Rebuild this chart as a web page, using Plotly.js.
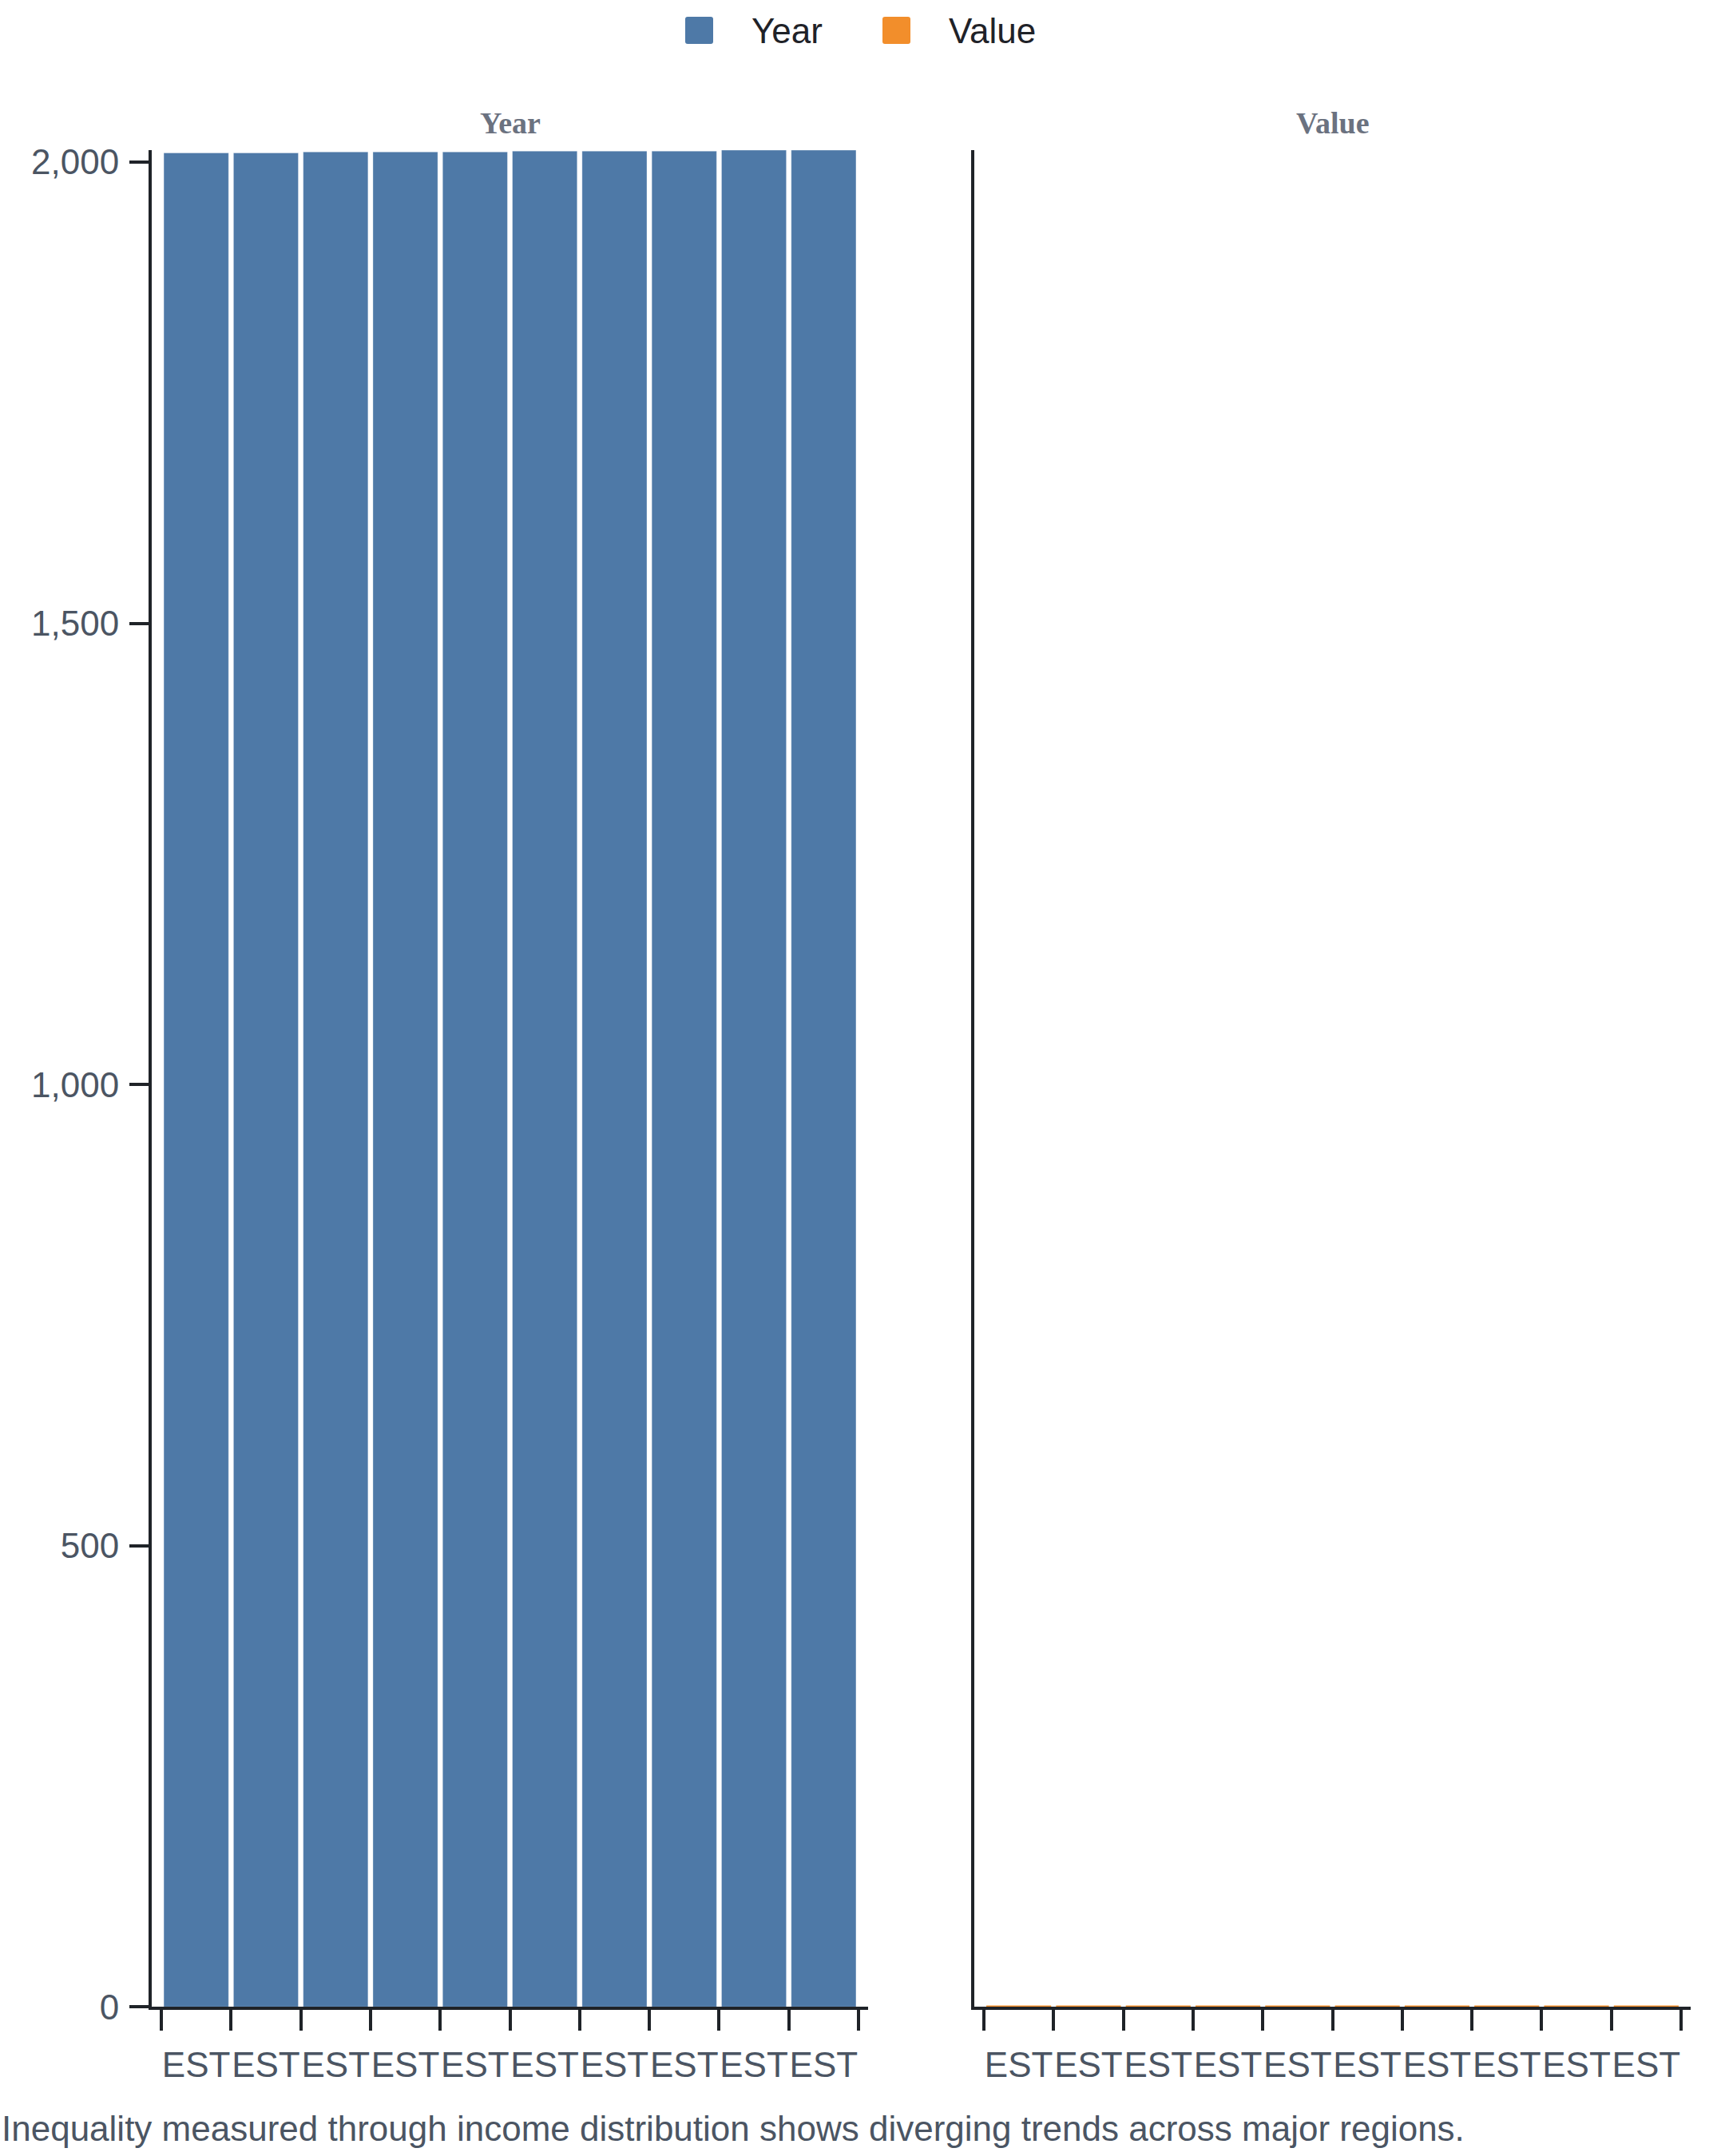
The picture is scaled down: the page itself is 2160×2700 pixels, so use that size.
<!DOCTYPE html>
<html>
<head>
<meta charset="utf-8">
<script src="https://cdn.plot.ly/plotly-3.0.1.min.js"></script>
<style>
  html, body { margin: 0; padding: 0; background: #ffffff; }
  #chart { width: 2160px; height: 2700px; }
</style>
</head>
<body>
<div id="chart"></div>
<script>
// ---- data ----
const regions = ['EST', 'EST', 'EST', 'EST', 'EST', 'EST', 'EST', 'EST', 'EST', 'EST'];
const yearValues = [2010, 2010, 2011, 2011, 2011, 2012, 2012, 2012, 2013, 2013];
const valueValues = [1.6, 1.6, 1.6, 1.6, 1.6, 1.6, 1.6, 1.6, 1.6, 1.6];
const seriesNames = ['Year', 'Value'];
const yTicks = [0, 500, 1000, 1500, 2000];
const caption = 'Inequality measured through income distribution shows diverging trends across major regions.';

// ---- styling ----
const W = 2160, H = 2700;
const BLUE = '#4e79a7', ORANGE = '#f28e2b';
const AXIS = '#1f2328', TICKTXT = '#4b5563', TITLE = '#6b7280';
const SANS = 'Liberation Sans, Arial, Helvetica, sans-serif';
const SERIF = 'Liberation Serif, Times New Roman, serif';

const px = v => v / W;
const py = v => 1 - v / H;

const idx = regions.map((_, i) => i);

const traces = [
  {
    type: 'bar', name: seriesNames[0], x: idx, y: yearValues,
    xaxis: 'x', yaxis: 'y',
    marker: { color: BLUE, line: { color: 'rgba(255,255,255,0.35)', width: 1 } },
    showlegend: false, hoverinfo: 'x+y'
  },
  {
    type: 'bar', name: seriesNames[1], x: idx, y: valueValues,
    xaxis: 'x2', yaxis: 'y2',
    marker: { color: ORANGE, line: { width: 0 } },
    showlegend: false, hoverinfo: 'x+y'
  }
];

const xCommon = {
  type: 'category',
  range: [-0.6375, 9.6375],
  tickmode: 'array', tickvals: idx, ticktext: regions,
  tickson: 'boundaries', tickangle: 0,
  ticks: 'outside', ticklen: 26, tickwidth: 4, tickcolor: AXIS,
  ticklabelstandoff: 31,
  showline: true, linewidth: 4, linecolor: AXIS,
  showgrid: false, zeroline: false,
  tickfont: { family: SANS, size: 44, color: TICKTXT },
  fixedrange: true
};

const yDomain = [py(2513.3), py(188)];
const yMax = Math.max(...yearValues);

const layout = {
  width: W, height: H,
  margin: { l: 0, r: 0, t: 0, b: 0, pad: 0 },
  paper_bgcolor: '#ffffff', plot_bgcolor: '#ffffff',
  showlegend: false,
  bargap: 0.07,
  font: { family: SANS, size: 44, color: TICKTXT },
  xaxis: Object.assign({}, xCommon, { domain: [px(190), px(1087)], anchor: 'y' }),
  xaxis2: Object.assign({}, xCommon, { domain: [px(1220), px(2117)], anchor: 'y2' }),
  yaxis: {
    domain: yDomain, range: [0, yMax], anchor: 'x',
    tickmode: 'array', tickvals: yTicks, tickformat: ',',
    ticks: 'outside', ticklen: 24, tickwidth: 4, tickcolor: AXIS,
    ticklabelstandoff: 4,
    showline: true, linewidth: 4, linecolor: AXIS,
    showgrid: false, zeroline: false,
    tickfont: { family: SANS, size: 44, color: TICKTXT },
    fixedrange: true
  },
  yaxis2: {
    domain: yDomain, matches: 'y', anchor: 'x2',
    showticklabels: false, ticks: '',
    showline: true, linewidth: 4, linecolor: AXIS,
    showgrid: false, zeroline: false,
    fixedrange: true
  },
  shapes: [],
  annotations: []
};

// legend (drawn manually so the swatches match the reference size)
function swatch(xLeft, color) {
  return {
    type: 'path', xref: 'paper', yref: 'paper',
    xsizemode: 'pixel', ysizemode: 'pixel',
    xanchor: px(xLeft), yanchor: py(55),
    path: 'M3,0 H32 Q35,0 35,3 V31 Q35,34 32,34 H3 Q0,34 0,31 V3 Q0,0 3,0 Z',
    fillcolor: color, line: { width: 0 }
  };
}
layout.shapes.push(swatch(858, BLUE));
layout.shapes.push(swatch(1105, ORANGE));

function legendText(xLeft, text) {
  return {
    xref: 'paper', yref: 'paper', x: px(xLeft), y: py(38),
    xanchor: 'left', yanchor: 'middle', showarrow: false,
    text: text, font: { family: SANS, size: 44, color: '#1f2228' }
  };
}
layout.annotations.push(legendText(939, seriesNames[0]));
layout.annotations.push(legendText(1186, seriesNames[1]));

// subplot titles
function subTitle(xc, text) {
  return {
    xref: 'paper', yref: 'paper', x: px(xc), y: py(154),
    xanchor: 'center', yanchor: 'middle', showarrow: false,
    text: '<b>' + text + '</b>', font: { family: SERIF, size: 38, color: TITLE }
  };
}
layout.annotations.push(subTitle(638.5, seriesNames[0]));
layout.annotations.push(subTitle(1668.5, seriesNames[1]));

// caption
layout.annotations.push({
  xref: 'paper', yref: 'paper', x: 0, y: py(2665),
  xanchor: 'left', yanchor: 'middle', showarrow: false,
  text: caption, font: { family: SANS, size: 44, color: TICKTXT }
});

Plotly.newPlot('chart', traces, layout, { displayModeBar: false, staticPlot: true });
</script>
</body>
</html>
